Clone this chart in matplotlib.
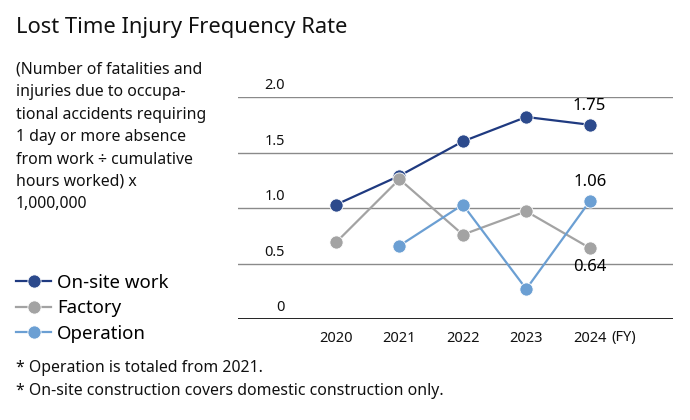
import matplotlib
matplotlib.use("Agg")
import matplotlib.pyplot as plt
from matplotlib.transforms import blended_transform_factory

plt.rcParams["font.family"] = ["Noto Sans", "DejaVu Sans"]

years = [2020, 2021, 2022, 2023, 2024]
year_labels = ["2020", "2021", "2022", "2023", "2024"]
onsite = [1.03, 1.29, 1.60, 1.82, 1.75]
factory = [0.69, 1.26, 0.76, 0.97, 0.64]
operation_years = [2021, 2022, 2023, 2024]
operation = [0.66, 1.03, 0.27, 1.06]
y_ticks = [0, 0.5, 1.0, 1.5, 2.0]
y_tick_labels = ["0", "0.5", "1.0", "1.5", "2.0"]

colors = {"onsite": "#2c4a8c", "factory": "#a3a3a3", "operation": "#6b9fd3"}
line_colors = {"onsite": "#1f3a80", "factory": "#a3a3a3", "operation": "#6b9fd3"}

W, H = 690, 420
fig = plt.figure(figsize=(W / 100, H / 100), dpi=100)
ax = fig.add_axes([238 / W, 1 - 319 / H, (673 - 238) / W, (319 - 97) / H])
ax.set_xlim(2018.454, 2025.314)
ax.set_ylim(0, 2.0)

for y in y_ticks[1:]:
    ax.axhline(y, color="#8a8a8a", linewidth=1.0, zorder=1)
ax.axhline(0, color="#222222", linewidth=1.4, zorder=1)

series = [
    ("onsite", "On-site work", years, onsite),
    ("factory", "Factory", years, factory),
    ("operation", "Operation", operation_years, operation),
]
handles = []
for key, label, xs, ys in series:
    (h,) = ax.plot(xs, ys, color=line_colors[key], linewidth=1.6,
                   marker="o", markersize=9.5, markerfacecolor=colors[key],
                   markeredgecolor="white", markeredgewidth=0.6,
                   label=label, clip_on=False, zorder=3)
    handles.append(h)

for s in ax.spines.values():
    s.set_visible(False)
ax.set_yticks([])
ax.set_xticks(years, year_labels, fontsize=10.5)
ax.tick_params(axis="x", length=0, pad=9, colors="#111111")
ax.text(2024.34, -0.10, "(FY)", fontsize=10.5, va="top", ha="left", color="#111111")

trans = blended_transform_factory(ax.transAxes, ax.transData)
for y, lab in zip(y_ticks, y_tick_labels):
    ax.text(0.108, y + 0.035, lab, transform=trans, ha="right", va="bottom",
            fontsize=10.5, color="#111111")

ax.text(years[4], onsite[4] + 0.10, "1.75", ha="center", va="bottom", fontsize=12)
ax.text(operation_years[3], operation[3] + 0.10, "1.06", ha="center", va="bottom", fontsize=12)
ax.text(years[4], factory[4] - 0.10, "0.64", ha="center", va="top", fontsize=12)

fig.text(16 / W, 1 - 27 / H, "Lost Time Injury Frequency Rate", fontsize=15.8,
         va="center", ha="left", color="#111111")

desc = ["(Number of fatalities and", "injuries due to occupa-",
        "tional accidents requiring", "1 day or more absence",
        "from work \u00f7 cumulative", "hours worked) x", "1,000,000"]
for i, line in enumerate(desc):
    fig.text(16 / W, 1 - (70 + 22.4 * i) / H, line, fontsize=11.4,
             va="center", ha="left", color="#111111")

fig.legend(handles=handles, loc="upper left", bbox_to_anchor=(16 / W, 1 - 274 / H),
           frameon=False, fontsize=13.4, handlelength=1.9, handletextpad=0.3,
           labelspacing=0.4, borderpad=0, borderaxespad=0)

notes = ["* Operation is totaled from 2021.",
         "* On-site construction covers domestic construction only."]
for i, line in enumerate(notes):
    fig.text(16 / W, 1 - (368 + 23 * i) / H, line, fontsize=11.4,
             va="center", ha="left", color="#111111")

fig.savefig("out.png", dpi=100, facecolor="white")
